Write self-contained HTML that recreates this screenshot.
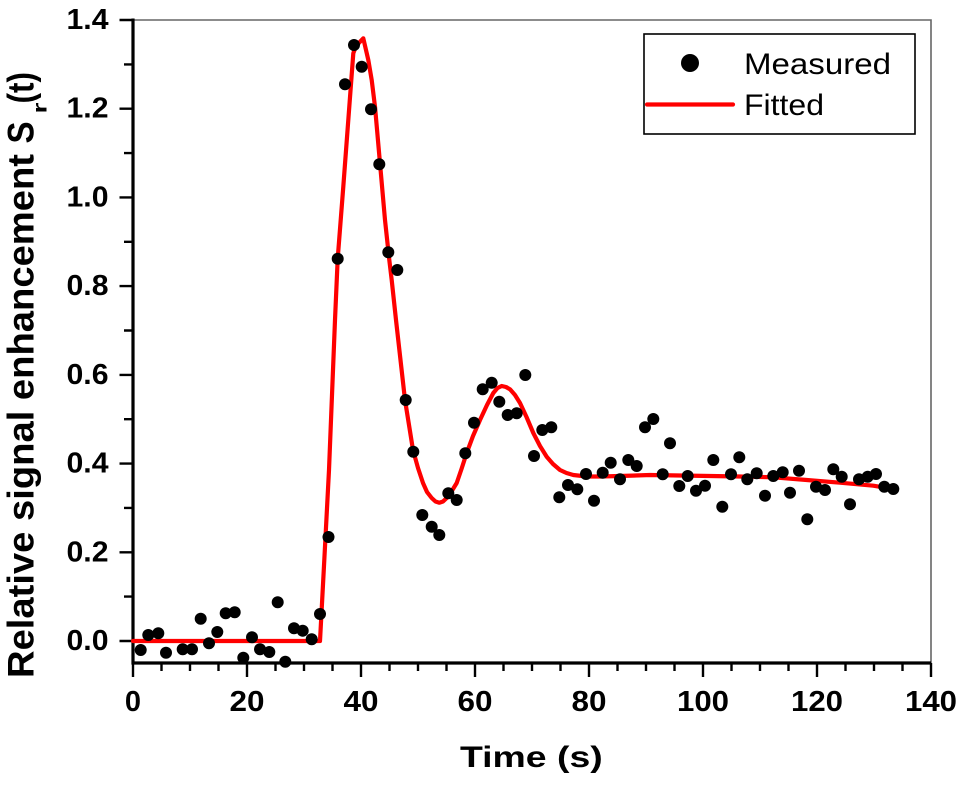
<!DOCTYPE html>
<html><head><meta charset="utf-8"><style>
html,body{margin:0;padding:0;background:#fff;}
svg{display:block;}
text{font-family:"Liberation Sans",Arial,sans-serif;fill:#000;}
.tl{font-weight:bold;font-size:29px;}
</style></head><body>
<svg width="960" height="785" viewBox="0 0 960 785" xmlns="http://www.w3.org/2000/svg">
<rect width="960" height="785" fill="#fff"/>
<path d="M133 20H931V663" fill="none" stroke="#666" stroke-width="1.6"/>
<path d="M133 18.5V663H931" fill="none" stroke="#000" stroke-width="3.2"/>
<path stroke="#000" stroke-width="2.4" d="M119.5 641H133M124 596.6H133M119.5 552.3H133M124 507.9H133M119.5 463.6H133M124 419.2H133M119.5 374.9H133M124 330.5H133M119.5 286.1H133M124 241.8H133M119.5 197.4H133M124 153.1H133M119.5 108.7H133M124 64.4H133M119.5 20H133"/>
<path stroke="#000" stroke-width="2.4" d="M133 663V677M161.5 663V671M190 663V671M218.5 663V671M247 663V677M275.5 663V671M304 663V671M332.5 663V671M361 663V677M389.5 663V671M418 663V671M446.5 663V671M475 663V677M503.5 663V671M532 663V671M560.5 663V671M589 663V677M617.5 663V671M646 663V671M674.5 663V671M703 663V677M731.5 663V671M760 663V671M788.5 663V671M817 663V677M845.5 663V671M874 663V671M902.5 663V671M931 663V677"/>
<g class="tl" text-anchor="end">
<text x="108.5" y="650" textLength="42" lengthAdjust="spacingAndGlyphs">0.0</text>
<text x="108.5" y="561.3" textLength="42" lengthAdjust="spacingAndGlyphs">0.2</text>
<text x="108.5" y="472.6" textLength="42" lengthAdjust="spacingAndGlyphs">0.4</text>
<text x="108.5" y="383.9" textLength="42" lengthAdjust="spacingAndGlyphs">0.6</text>
<text x="108.5" y="295.1" textLength="42" lengthAdjust="spacingAndGlyphs">0.8</text>
<text x="108.5" y="206.4" textLength="42" lengthAdjust="spacingAndGlyphs">1.0</text>
<text x="108.5" y="117.7" textLength="42" lengthAdjust="spacingAndGlyphs">1.2</text>
<text x="108.5" y="29" textLength="42" lengthAdjust="spacingAndGlyphs">1.4</text>
</g>
<g class="tl" text-anchor="middle">
<text x="133" y="711">0</text>
<text x="247" y="711" textLength="35" lengthAdjust="spacingAndGlyphs">20</text>
<text x="361" y="711" textLength="35" lengthAdjust="spacingAndGlyphs">40</text>
<text x="475" y="711" textLength="35" lengthAdjust="spacingAndGlyphs">60</text>
<text x="589" y="711" textLength="35" lengthAdjust="spacingAndGlyphs">80</text>
<text x="703" y="711" textLength="52" lengthAdjust="spacingAndGlyphs">100</text>
<text x="817" y="711" textLength="52" lengthAdjust="spacingAndGlyphs">120</text>
<text x="931" y="711" textLength="52" lengthAdjust="spacingAndGlyphs">140</text>
</g>
<text x="460" y="767" font-size="30" font-weight="bold" textLength="142.7" lengthAdjust="spacingAndGlyphs">Time (s)</text>
<text transform="translate(33.5,678) rotate(-90)" font-size="37" font-weight="bold" textLength="524" lengthAdjust="spacingAndGlyphs">Relative signal enhancement</text>
<text transform="translate(33.5,143.5) rotate(-90)" font-size="37" font-weight="bold" textLength="22" lengthAdjust="spacingAndGlyphs">S</text>
<text transform="translate(46.5,113.5) rotate(-90)" font-size="19" font-weight="bold" textLength="11" lengthAdjust="spacingAndGlyphs">r</text>
<text transform="translate(33.5,103.5) rotate(-90)" font-size="37" font-weight="bold" textLength="31.5" lengthAdjust="spacingAndGlyphs">(t)</text>
<polyline fill="none" stroke="#ff0000" stroke-width="4.2" stroke-linejoin="round" stroke-linecap="round" points="133,641 320,641 324.3,560 329,470 335,320 337.7,258.7 343.3,186.7 348.3,120 353.3,53.3 356,46 363.3,38.3 368.3,60 371.7,80 375,106.7 380,163.3 385,220 389.3,260 391.7,280 396,320 405,400 413,450 418,468 423,483 427,492 431.7,498 435.5,501.5 439.3,502.7 443,501.5 446.7,498 451.5,491.5 456.7,483 461.5,469 466.7,453 473,436 480,420 487,405 493.3,393 497.5,388 501.7,386 506,387 510,389.3 515,395 520,403 526.5,417 533.3,433 540,446 546.7,456.7 553,464 560,470 566.5,473 573.3,475 586.7,476.5 600,476.5 620,476 650,475 680,475.5 710,476 740,476.5 773.3,477.3 806.7,480 840,482.7 873.3,485.7 893.3,489"/>
<g fill="#000">
<circle cx="140.7" cy="650" r="6"/><circle cx="148.3" cy="635" r="6"/><circle cx="158.3" cy="633.3" r="6"/><circle cx="166" cy="652.7" r="6"/>
<circle cx="182.7" cy="649.3" r="6"/><circle cx="192" cy="649.3" r="6"/><circle cx="200.7" cy="618.7" r="6"/><circle cx="209" cy="643.3" r="6"/>
<circle cx="217.3" cy="632" r="6"/><circle cx="225.7" cy="613.3" r="6"/><circle cx="234.7" cy="612.3" r="6"/><circle cx="243.3" cy="657.7" r="6"/>
<circle cx="252" cy="637.3" r="6"/><circle cx="260" cy="649.3" r="6"/><circle cx="269.3" cy="652" r="6"/><circle cx="277.7" cy="602.3" r="6"/>
<circle cx="285.3" cy="661.7" r="6"/><circle cx="294" cy="628.3" r="6"/><circle cx="302.7" cy="630.7" r="6"/><circle cx="311.7" cy="639.3" r="6"/>
<circle cx="320" cy="614" r="6"/><circle cx="328.5" cy="537" r="6"/><circle cx="337.7" cy="258.7" r="6"/><circle cx="345" cy="84.3" r="6"/>
<circle cx="354" cy="45" r="6"/><circle cx="361.7" cy="66.7" r="6"/><circle cx="371" cy="109.3" r="6"/><circle cx="379.3" cy="164.3" r="6"/>
<circle cx="388.3" cy="252.3" r="6"/><circle cx="397.3" cy="270" r="6"/><circle cx="405.7" cy="400" r="6"/><circle cx="413.3" cy="451.7" r="6"/>
<circle cx="422.3" cy="515" r="6"/><circle cx="431.7" cy="526.7" r="6"/><circle cx="439.3" cy="535" r="6"/><circle cx="448.3" cy="493.3" r="6"/>
<circle cx="456.7" cy="500" r="6"/><circle cx="465.3" cy="453.3" r="6"/><circle cx="474" cy="422.7" r="6"/><circle cx="482.7" cy="389.3" r="6"/>
<circle cx="491.7" cy="382.7" r="6"/><circle cx="499.3" cy="401.7" r="6"/><circle cx="507.7" cy="415" r="6"/><circle cx="516.7" cy="413.3" r="6"/>
<circle cx="525.3" cy="375" r="6"/><circle cx="534" cy="456" r="6"/><circle cx="542.3" cy="430" r="6"/><circle cx="551.3" cy="427.3" r="6"/>
<circle cx="559.3" cy="497.3" r="6"/><circle cx="568" cy="485" r="6"/><circle cx="577.3" cy="489.3" r="6"/><circle cx="586" cy="474" r="6"/>
<circle cx="594" cy="500.7" r="6"/><circle cx="602.7" cy="472.7" r="6"/><circle cx="610.7" cy="462.7" r="6"/><circle cx="620" cy="479.3" r="6"/>
<circle cx="628.3" cy="460" r="6"/><circle cx="636.7" cy="466" r="6"/><circle cx="645" cy="427.3" r="6"/><circle cx="653.3" cy="419" r="6"/>
<circle cx="662.7" cy="474.3" r="6"/><circle cx="670" cy="443.3" r="6"/><circle cx="679.3" cy="486" r="6"/><circle cx="687.7" cy="476" r="6"/>
<circle cx="696" cy="490.7" r="6"/><circle cx="705" cy="485.7" r="6"/><circle cx="713.3" cy="460" r="6"/><circle cx="722.3" cy="506.7" r="6"/>
<circle cx="731" cy="474.3" r="6"/><circle cx="739.3" cy="457.3" r="6"/><circle cx="747.3" cy="479.3" r="6"/><circle cx="756.7" cy="473.3" r="6"/>
<circle cx="765" cy="495.7" r="6"/><circle cx="773.3" cy="476" r="6"/><circle cx="782.7" cy="472.3" r="6"/><circle cx="790" cy="492.7" r="6"/>
<circle cx="799" cy="470.7" r="6"/><circle cx="807.3" cy="519.3" r="6"/><circle cx="816" cy="486.7" r="6"/><circle cx="825" cy="490" r="6"/>
<circle cx="833.3" cy="469.3" r="6"/><circle cx="841.7" cy="476.7" r="6"/><circle cx="850" cy="504.3" r="6"/><circle cx="859" cy="479.3" r="6"/>
<circle cx="867.7" cy="476.7" r="6"/><circle cx="876" cy="474" r="6"/><circle cx="884.3" cy="486.7" r="6"/><circle cx="893.3" cy="489" r="6"/>
</g>
<rect x="644" y="34" width="271" height="100" fill="#fff" stroke="#000" stroke-width="1.6"/>
<circle cx="690" cy="63" r="9" fill="#000"/>
<line x1="647" y1="104.5" x2="733" y2="104.5" stroke="#ff0000" stroke-width="4.2" stroke-linecap="round"/>
<text x="744" y="74" font-size="30" textLength="147" lengthAdjust="spacingAndGlyphs">Measured</text>
<text x="744" y="115" font-size="30" textLength="80" lengthAdjust="spacingAndGlyphs">Fitted</text>
</svg>
</body></html>
